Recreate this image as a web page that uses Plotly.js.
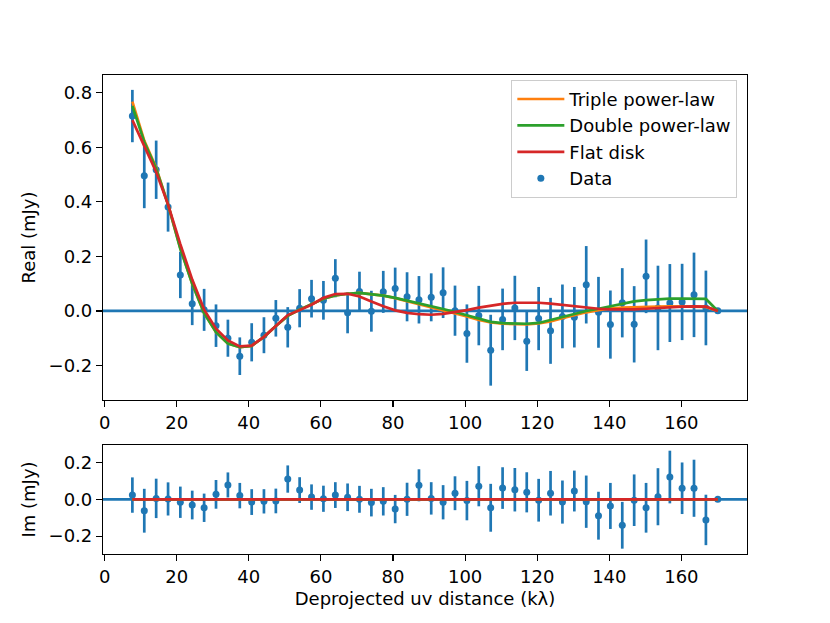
<!DOCTYPE html>
<html>
<head>
<meta charset="utf-8">
<script src="https://cdn.plot.ly/plotly-3.0.1.min.js"></script>
<style>html,body{margin:0;padding:0;background:#fff;}#chart{width:830px;height:623px;}</style>
</head>
<body>
<div id="chart"></div>
<script>
// uv distance bins (kλ)
const uvDist = [7.7, 11.0, 14.3, 17.6, 21.0, 24.3, 27.6, 30.9, 34.2, 37.5,
  40.8, 44.2, 47.5, 50.8, 54.1, 57.4, 60.7, 64.0, 67.4, 70.7,
  74.0, 77.3, 80.6, 83.9, 87.2, 90.6, 93.9, 97.2, 100.5, 103.8,
  107.1, 110.4, 113.8, 117.1, 120.4, 123.7, 127.0, 130.3, 133.6, 137.0,
  140.3, 143.6, 146.9, 150.2, 153.5, 156.8, 160.2, 163.5, 166.8, 170.1];

// Real part of the data (mJy)
const realData = [0.715, 0.496, 0.518, 0.381, 0.132, 0.026, 0.004, -0.054, -0.100, -0.166,
  -0.115, -0.089, -0.027, -0.060, 0.010, 0.045, 0.039, 0.120, -0.007, 0.071,
  -0.001, 0.070, 0.082, 0.052, 0.041, 0.050, 0.067, 0.001, -0.083, -0.017,
  -0.144, -0.031, 0.011, -0.111, -0.028, -0.073, -0.020, -0.023, 0.096, -0.005,
  -0.050, 0.030, -0.049, 0.127, 0.011, 0.029, 0.033, 0.059, 0.011, 0.001];

// Imaginary part of the data (mJy)
const imagData = [0.023, -0.062, 0.005, 0.002, -0.016, -0.031, -0.046, 0.027, 0.078, 0.020,
  -0.015, -0.011, -0.009, 0.110, 0.050, 0.012, 0.003, 0.023, 0.011, 0.000,
  -0.018, -0.011, -0.053, 0.000, 0.076, 0.005, -0.016, 0.033, -0.007, 0.071,
  -0.046, 0.061, 0.052, 0.038, -0.005, 0.033, -0.015, 0.045, -0.013, -0.089,
  -0.036, -0.141, -0.005, -0.046, 0.014, 0.121, 0.060, 0.060, -0.112, 0.000];

// 1-sigma uncertainties (mJy)
const sigma = [0.096, 0.119, 0.107, 0.090, 0.085, 0.078, 0.077, 0.078, 0.068, 0.069,
  0.070, 0.066, 0.067, 0.074, 0.070, 0.069, 0.071, 0.070, 0.075, 0.073,
  0.075, 0.077, 0.077, 0.090, 0.087, 0.088, 0.093, 0.092, 0.107, 0.109,
  0.130, 0.113, 0.118, 0.109, 0.116, 0.121, 0.117, 0.111, 0.142, 0.130,
  0.125, 0.127, 0.140, 0.135, 0.155, 0.143, 0.140, 0.155, 0.137, 0.000];

// Model real parts
const tripleReal = [0.768, 0.625, 0.525, 0.390, 0.230, 0.100, -0.008, -0.078, -0.120, -0.133,
  -0.128, -0.095, -0.055, -0.018, 0.005, 0.025, 0.045, 0.057, 0.063, 0.066,
  0.062, 0.056, 0.047, 0.036, 0.024, 0.014, 0.002, -0.009, -0.020, -0.033,
  -0.042, -0.047, -0.049, -0.049, -0.046, -0.038, -0.027, -0.016, -0.005, 0.003,
  0.009, 0.012, 0.014, 0.015, 0.016, 0.017, 0.017, 0.016, 0.015, 0.000];
const doubleReal = [0.752, 0.620, 0.522, 0.390, 0.228, 0.100, -0.008, -0.078, -0.120, -0.133,
  -0.128, -0.095, -0.055, -0.018, 0.005, 0.025, 0.045, 0.057, 0.063, 0.066,
  0.062, 0.056, 0.048, 0.038, 0.029, 0.019, 0.007, -0.004, -0.016, -0.030,
  -0.040, -0.045, -0.047, -0.047, -0.044, -0.034, -0.022, -0.011, 0.000, 0.008,
  0.017, 0.028, 0.035, 0.040, 0.043, 0.045, 0.045, 0.045, 0.044, 0.000];
const flatReal = [0.700, 0.605, 0.510, 0.390, 0.245, 0.115, 0.005, -0.065, -0.108, -0.130,
  -0.127, -0.095, -0.055, -0.015, 0.003, 0.023, 0.048, 0.062, 0.063, 0.053,
  0.035, 0.017, 0.002, -0.007, -0.012, -0.014, -0.011, -0.005, 0.003, 0.012,
  0.020, 0.026, 0.030, 0.031, 0.030, 0.027, 0.022, 0.017, 0.012, 0.008,
  0.006, 0.005, 0.006, 0.008, 0.011, 0.014, 0.016, 0.017, 0.016, 0.000];

// Model imaginary parts (all ~0)
const modelImag = [0, 0, 0, 0, 0, 0, 0, 0, 0, 0,
  0, 0, 0, 0, 0, 0, 0, 0, 0, 0,
  0, 0, 0, 0, 0, 0, 0, 0, 0, 0,
  0, 0, 0, 0, 0, 0, 0, 0, 0, 0,
  0, 0, 0, 0, 0, 0, 0, 0, 0, 0];

// Tick labels
const xTickVals = [0, 20, 40, 60, 80, 100, 120, 140, 160];
const xTickText = ['0', '20', '40', '60', '80', '100', '120', '140', '160'];
const yTopTickVals = [-0.2, 0.0, 0.2, 0.4, 0.6, 0.8];
const yTopTickText = ['\u22120.2', '0.0', '0.2', '0.4', '0.6', '0.8'];
const yBotTickVals = [-0.2, 0.0, 0.2];
const yBotTickText = ['\u22120.2', '0.0', '0.2'];

const C_BLUE = '#1f77b4', C_ORANGE = '#ff7f0e', C_GREEN = '#2ca02c', C_RED = '#d62728';
const LW = 2.7;

const traces = [
  {x: uvDist, y: realData, xaxis: 'x', yaxis: 'y', type: 'scatter', mode: 'markers', name: 'Data',
   legendrank: 4, marker: {color: C_BLUE, size: 7},
   error_y: {type: 'data', array: sigma, visible: true, width: 0, thickness: 2.7, color: C_BLUE}},
  {x: uvDist, y: tripleReal, xaxis: 'x', yaxis: 'y', type: 'scatter', mode: 'lines', name: 'Triple power-law',
   legendrank: 1, line: {color: C_ORANGE, width: LW}},
  {x: uvDist, y: doubleReal, xaxis: 'x', yaxis: 'y', type: 'scatter', mode: 'lines', name: 'Double power-law',
   legendrank: 2, line: {color: C_GREEN, width: LW}},
  {x: uvDist, y: flatReal, xaxis: 'x', yaxis: 'y', type: 'scatter', mode: 'lines', name: 'Flat disk',
   legendrank: 3, line: {color: C_RED, width: LW}},
  {x: uvDist, y: imagData, xaxis: 'x2', yaxis: 'y2', type: 'scatter', mode: 'markers', showlegend: false,
   marker: {color: C_BLUE, size: 7},
   error_y: {type: 'data', array: sigma, visible: true, width: 0, thickness: 2.7, color: C_BLUE}},
  {x: uvDist, y: modelImag, xaxis: 'x2', yaxis: 'y2', type: 'scatter', mode: 'lines', showlegend: false,
   line: {color: C_ORANGE, width: LW}},
  {x: uvDist, y: modelImag, xaxis: 'x2', yaxis: 'y2', type: 'scatter', mode: 'lines', showlegend: false,
   line: {color: C_GREEN, width: LW}},
  {x: uvDist, y: modelImag, xaxis: 'x2', yaxis: 'y2', type: 'scatter', mode: 'lines', showlegend: false,
   line: {color: C_RED, width: LW}}
];

const axCommon = {
  showgrid: false, zeroline: false, showline: true, mirror: true,
  linecolor: 'black', linewidth: 1.1, ticks: 'outside', ticklen: 6, tickwidth: 1.1,
  tickcolor: 'black', tickfont: {family: 'DejaVu Sans', size: 18, color: 'black'}
};

const layout = {
  width: 830, height: 623,
  margin: {l: 103, r: 83, t: 75, b: 69, pad: 0},
  paper_bgcolor: '#ffffff', plot_bgcolor: '#ffffff',
  font: {family: 'DejaVu Sans', size: 18, color: 'black'},
  showlegend: true,
  xaxis: Object.assign({}, axCommon, {domain: [0, 1], anchor: 'y', range: [-0.45, 178.2],
    tickmode: 'array', tickvals: xTickVals, ticktext: xTickText}),
  yaxis: Object.assign({}, axCommon, {domain: [0.3215, 1], anchor: 'x', range: [-0.3267, 0.8656],
    tickmode: 'array', tickvals: yTopTickVals, ticktext: yTopTickText,
    title: {text: 'Real (mJy)', font: {family: 'DejaVu Sans', size: 18, color: 'black'}, standoff: 8}}),
  xaxis2: Object.assign({}, axCommon, {domain: [0, 1], anchor: 'y2', range: [-0.45, 178.2],
    tickmode: 'array', tickvals: xTickVals, ticktext: xTickText,
    title: {text: 'Deprojected uv distance (k\u03bb)', font: {family: 'DejaVu Sans', size: 18, color: 'black'}, standoff: 6}}),
  yaxis2: Object.assign({}, axCommon, {domain: [0, 0.2276], anchor: 'x2', range: [-0.297, 0.295],
    tickmode: 'array', tickvals: yBotTickVals, ticktext: yBotTickText,
    title: {text: 'Im (mJy)', font: {family: 'DejaVu Sans', size: 18, color: 'black'}, standoff: 8}}),
  legend: {x: 0.985, xanchor: 'right', y: 0.99, yanchor: 'top', itemwidth: 47,
    bgcolor: 'rgba(255,255,255,0.8)', bordercolor: '#cccccc', borderwidth: 1,
    font: {family: 'DejaVu Sans', size: 18, color: 'black'}, tracegroupgap: 0},
  shapes: [
    {type: 'line', xref: 'x domain', yref: 'y', x0: 0, x1: 1, y0: 0, y1: 0, layer: 'below',
     line: {color: C_BLUE, width: LW}},
    {type: 'line', xref: 'x2 domain', yref: 'y2', x0: 0, x1: 1, y0: 0, y1: 0, layer: 'below',
     line: {color: C_BLUE, width: LW}}
  ]
};

Plotly.newPlot('chart', traces, layout, {displayModeBar: false, staticPlot: true});
</script>
</body>
</html>
